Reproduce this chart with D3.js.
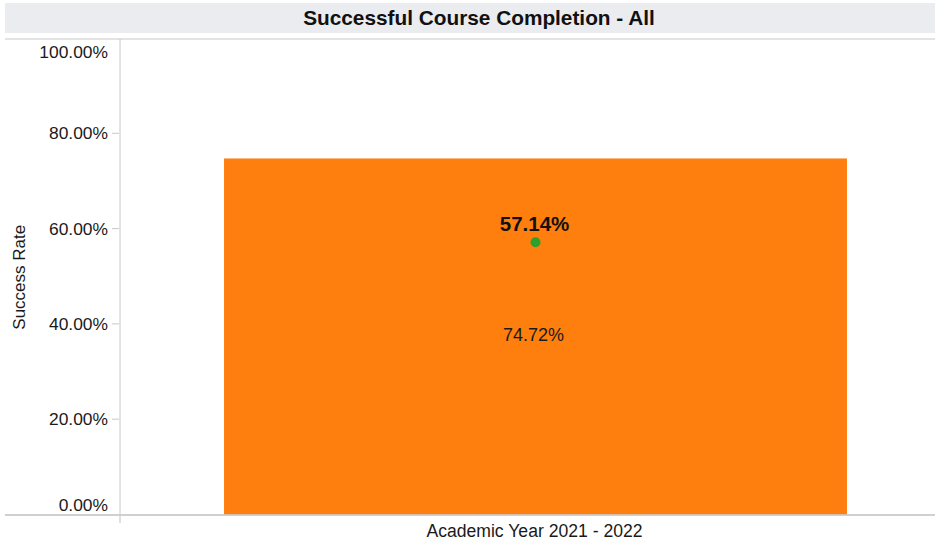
<!DOCTYPE html>
<html>
<head>
<meta charset="utf-8">
<script src="https://cdn.jsdelivr.net/npm/d3@7"></script>
<style>
  body { margin: 0; background: #fff; }
  svg { display: block; font-family: "Liberation Sans", Arial, sans-serif; }
</style>
</head>
<body>
<svg id="chart" width="939" height="543"></svg>
<script>
// data
const categories = ["Academic Year 2021 - 2022"];
const successRate = [74.72];
const targetRate = [57.14];
const yTicks = [0, 20, 40, 60, 80, 100];

const width = 939, height = 543;
const svg = d3.select("#chart");

// title band
svg.append("rect")
    .attr("x", 5).attr("y", 3)
    .attr("width", 930).attr("height", 30)
    .attr("fill", "#ebecef");
svg.append("text")
    .attr("x", 479).attr("y", 25)
    .attr("text-anchor", "middle")
    .attr("font-size", 20.8).attr("font-weight", "bold")
    .attr("fill", "#111")
    .text("Successful Course Completion - All");

const x = d3.scaleBand()
    .domain(categories)
    .range([120, 951])
    .paddingInner(0)
    .paddingOuter(0.167);

const y = d3.scaleLinear()
    .domain([0, 100])
    .range([514.5, 38]);

// frame line under title
svg.append("line")
    .attr("x1", 5).attr("x2", 935)
    .attr("y1", 39).attr("y2", 39)
    .attr("stroke", "#c8c8c8");

// bars
svg.selectAll(".bar")
    .data(categories)
    .join("rect")
    .attr("class", "bar")
    .attr("x", d => x(d))
    .attr("width", x.bandwidth())
    .attr("y", (d, i) => y(successRate[i]))
    .attr("height", (d, i) => y(0) - y(successRate[i]))
    .attr("fill", "#fe7f0e");

// y axis
const yAxis = svg.append("g");
yAxis.append("line")
    .attr("x1", 120).attr("x2", 120)
    .attr("y1", 39).attr("y2", 515)
    .attr("stroke", "#c8c8c8");
yAxis.selectAll(".tick")
    .data(yTicks.filter(t => t > 0 && t < 100))
    .join("line")
    .attr("x1", 112).attr("x2", 119)
    .attr("y1", d => y(d)).attr("y2", d => y(d))
    .attr("stroke", "#c8c8c8");
yAxis.selectAll(".lbl")
    .data(yTicks)
    .join("text")
    .attr("x", 108)
    .attr("y", d => d === 100 ? y(d) + 14 : d === 0 ? y(d) - 10 : y(d))
    .attr("dy", "0.35em")
    .attr("text-anchor", "end")
    .attr("font-size", 17.4)
    .attr("fill", "#1a1a1a")
    .text(d => d.toFixed(2) + "%");

svg.append("text")
    .attr("transform", `translate(25,${y(50) + 1}) rotate(-90)`)
    .attr("text-anchor", "middle")
    .attr("font-size", 17)
    .attr("fill", "#1a1a1a")
    .text("Success Rate");

// baseline & x axis
svg.append("line")
    .attr("x1", 5).attr("x2", 935)
    .attr("y1", 515).attr("y2", 515)
    .attr("stroke", "#c0c0c0").attr("stroke-width", 1.5);
svg.append("line")
    .attr("x1", 120).attr("x2", 120)
    .attr("y1", 516).attr("y2", 523)
    .attr("stroke", "#c0c0c0");
svg.selectAll(".xlbl")
    .data(categories)
    .join("text")
    .attr("x", d => x(d) + x.bandwidth() / 2 - 1)
    .attr("y", 537)
    .attr("text-anchor", "middle")
    .attr("font-size", 17.6)
    .attr("fill", "#1a1a1a")
    .text(d => d);

// value labels
svg.selectAll(".val")
    .data(categories)
    .join("text")
    .attr("x", d => x(d) + x.bandwidth() / 2 - 2)
    .attr("y", (d, i) => (y(successRate[i]) + y(0)) / 2 - 2)
    .attr("dy", "0.35em")
    .attr("text-anchor", "middle")
    .attr("font-size", 18)
    .attr("fill", "#1a1a1a")
    .text((d, i) => successRate[i].toFixed(2) + "%");

// target dots
svg.selectAll(".dot")
    .data(categories)
    .join("circle")
    .attr("cx", d => x(d) + x.bandwidth() / 2)
    .attr("cy", (d, i) => y(targetRate[i]))
    .attr("r", 5)
    .attr("fill", "#2ca02c");
svg.selectAll(".tval")
    .data(categories)
    .join("text")
    .attr("x", d => x(d) + x.bandwidth() / 2 - 1)
    .attr("y", (d, i) => y(targetRate[i]) - 11)
    .attr("text-anchor", "middle")
    .attr("font-size", 20.5)
    .attr("font-weight", "bold")
    .attr("fill", "#111")
    .text((d, i) => targetRate[i].toFixed(2) + "%");
</script>
</body>
</html>
